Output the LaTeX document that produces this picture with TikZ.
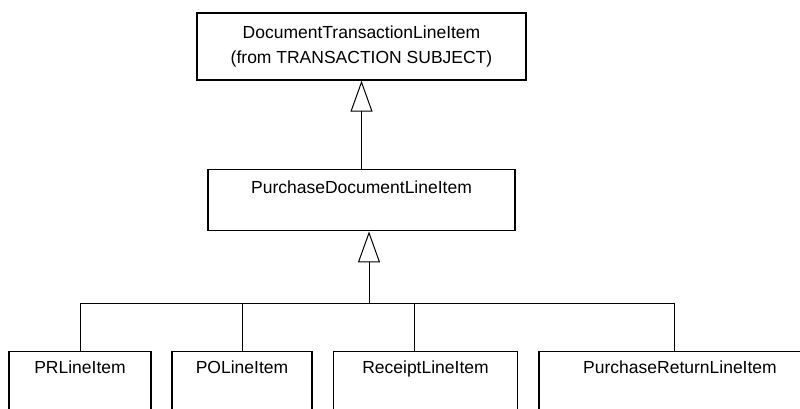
\documentclass[tikz,border=0pt]{standalone}
\usepackage{fontspec}
\setmainfont{Liberation Sans}
\usetikzlibrary{arrows.meta}
\tikzset{>=latex}

\begin{document}
\begin{tikzpicture}[x=1pt,y=-1pt,
    classbox/.style={draw, line width=1.4pt, inner sep=0pt, font=\fontsize{17.5}{25}\selectfont},
    leafbox/.style={classbox, anchor=north, text height=22pt, text depth=70pt},
    extends/.style={line width=1pt, -{Triangle[open, length=31pt, width=22pt]}}]
                        \clip (0,0) rectangle (800,408);
                        \fill[white] (0,0) rectangle (800,408);

                        % classes
                        \node[classbox, minimum width=329pt, minimum height=67pt, align=center] (top) at (361.5,46.5) {DocumentTransactionLineItem\\(from TRANSACTION SUBJECT)};
                        \node[classbox, anchor=north, minimum width=307pt, text height=24pt, text depth=37pt] (mid) at (361.5,169) {PurchaseDocumentLineItem};
                        \node[leafbox, minimum width=142pt] (pr) at (80,351) {PRLineItem};
                        \node[leafbox, minimum width=140pt] (po) at (242,351) {POLineItem};
                        \node[leafbox, minimum width=184pt] (rcpt) at (425.5,351) {ReceiptLineItem};
                        \node[leafbox, minimum width=282pt] (ret) at (680,351) {PurchaseReturnLineItem};

                        % mid to top
                        \draw[extends] (mid.north) -- (top.south);
                        % bar to mid
                        \coordinate (bar) at (369,303);
                        \draw[extends] (bar) -- (bar |- mid.south);
                        % the bar
                        \draw[line width=1pt] (pr.north |- bar) -- ([xshift=-6pt]ret.north |- bar);
                        % PR to bar
                        \draw[line width=1pt] (pr.north) -- (pr.north |- bar);
                        % PO to bar
                        \draw[line width=1pt] (po.north) -- (po.north |- bar);
                        % Receipt to bar
                        \draw[line width=1pt] ([xshift=-11.5pt]rcpt.north) -- ([xshift=-11.5pt]rcpt.north |- bar);
                        % Return to bar
                        \draw[line width=1pt] ([xshift=-6pt]ret.north) -- ([xshift=-6pt]ret.north |- bar);
                    \end{tikzpicture}
\end{document}
